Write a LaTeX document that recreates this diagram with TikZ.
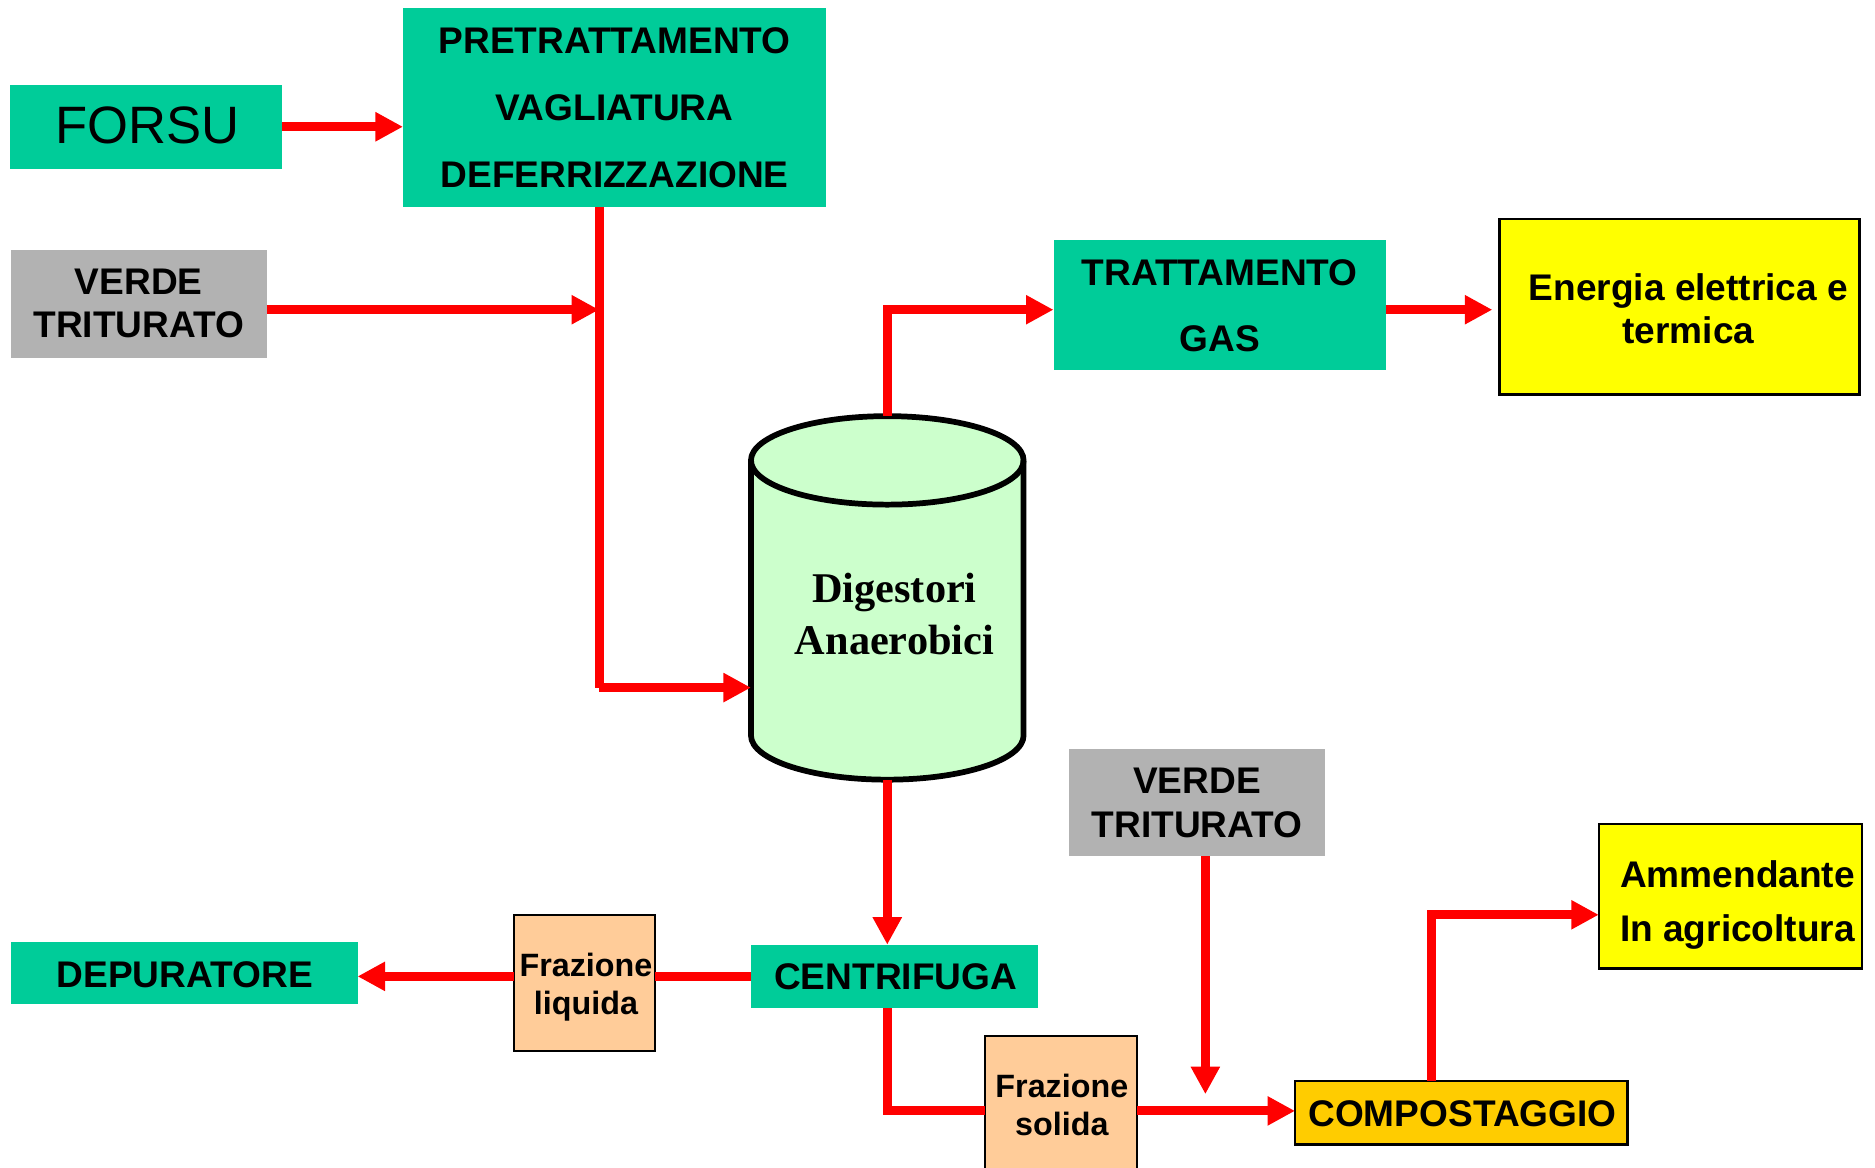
\documentclass[tikz,border=0pt]{standalone}
\usepackage{fontspec}
\setmainfont{Liberation Sans}
\newfontfamily\serifb{Liberation Serif}
\usetikzlibrary{arrows.meta,calc}
\definecolor{tealc}{HTML}{00CC99}
\definecolor{grayc}{HTML}{B2B2B2}
\definecolor{yellowc}{HTML}{FFFF00}
\definecolor{orangec}{HTML}{FFCC00}
\definecolor{peachc}{HTML}{FFCC99}
\definecolor{greenc}{HTML}{CCFFCC}
\definecolor{redc}{HTML}{FF0000}
\tikzset{
  boxn/.style={inner sep=0pt, outer sep=0pt},
  tealbox/.style={boxn, fill=tealc},
  graybox/.style={boxn, fill=grayc},
  framed/.style={boxn, draw=black, line width=1pt},
  lbl/.style={inner sep=0pt, align=center, font=\bfseries\fontsize{15.5}{18}\selectfont},
  ln/.style={draw=redc, line width=3.75pt},
  arr/.style={ln, -{Triangle[length=11.5pt,width=11.5pt]}},
}
\begin{document}
\begin{tikzpicture}[x=0.5pt,y=-0.5pt]
\useasboundingbox (0,0) rectangle (1568,976);
\fill[white] (0,0) rectangle (1568,976);

% boxes
\node[tealbox, minimum width=114pt, minimum height=35pt] (forsu) at (122,106) {};
\node[tealbox, minimum width=177pt, minimum height=83pt] (pre) at (514,90) {};
\node[graybox, minimum width=107pt, minimum height=45pt] (v1) at (116,254) {};
\node[tealbox, minimum width=139pt, minimum height=54pt] (tr) at (1020,255) {};
\node[framed, fill=yellowc, minimum width=150.5pt, minimum height=73.5pt] (en) at (1404.5,256.5) {};
\node[boxn, minimum width=114pt, minimum height=152pt] (dig) at (742,500) {};
\node[tealbox, minimum width=120pt, minimum height=26.5pt] (cen) at (748,816.5) {};
\node[framed, line width=0.8pt, fill=peachc, minimum width=59pt, minimum height=57pt] (fl) at (489,822) {};
\node[tealbox, minimum width=145pt, minimum height=26pt] (dep) at (154,814) {};
\node[framed, line width=0.8pt, fill=peachc, minimum width=63.5pt, minimum height=67pt] (fs) at (887.5,933) {};
\node[framed, fill=orangec, minimum width=139pt, minimum height=26.5pt] (comp) at (1222,930.5) {};
\node[graybox, minimum width=107pt, minimum height=45pt] (v2) at (1001,671) {};
\node[framed, fill=yellowc, minimum width=110pt, minimum height=60.5pt] (am) at (1447,749.5) {};

% cylinder
\filldraw[fill=greenc, draw=black, line width=2.4pt]
  (628,385) -- (628,615) arc[start angle=180, end angle=360, x radius=57pt, y radius=18.5pt]
  -- (856,385) arc[start angle=0, end angle=180, x radius=57pt, y radius=18.5pt] -- cycle;
\draw[black, line width=2.4pt] (628,385) arc[start angle=180, end angle=360, x radius=57pt, y radius=18.5pt];

% junction coordinates
\coordinate (j1) at (501,259);
\coordinate (b1) at (501,575);
\coordinate (b2) at (742,259);
\coordinate (b3) at (742,929);
\coordinate (tipv) at (1008,915);
\coordinate (b4) at (1197,765);

% connectors
\draw[arr] (forsu.east) -- (pre.west |- forsu.east);
\draw[ln] (pre.south -| b1) -- (b1);
\draw[arr] (b1) -- (dig.west |- b1);
\draw[arr] (v1.east |- j1) -- (j1);
\draw[arr] (dig.north) -- (b2) -- (tr.west |- b2);
\draw[arr, shorten >=3pt] (tr.east |- b2) -- (en.west |- b2);
\draw[arr] (dig.south) -- (dig.south |- cen.north);
\draw[ln] (cen.west) -- (fl.east |- cen.west);
\draw[arr] (fl.west |- cen.west) -- (dep.east |- cen.west);
\draw[ln] (b3 |- cen.south) -- (b3) -- (fs.west |- b3);
\draw[arr] (fs.east |- b3) -- (comp.west |- b3);
\draw[arr] (v2.south -| tipv) -- (tipv);
\draw[arr] (comp.north -| b4) -- (b4) -- (am.west |- b4);

% labels
\node[inner sep=0pt, font=\fontsize{22}{26}\selectfont] (forsuT) at (123,105) {FORSU};
\node[lbl, font=\bfseries\fontsize{15.5}{28}\selectfont] (preT) at (514,90) {PRETRATTAMENTO\\VAGLIATURA\\DEFERRIZZAZIONE};
\node[lbl] (v1T) at (116,254) {VERDE\\TRITURATO};
\node[lbl, font=\bfseries\fontsize{15.5}{27.5}\selectfont] (trT) at (1020,255.5) {TRATTAMENTO\\GAS};
\node[lbl] (enT) at (1412,258) {Energia elettrica e\\termica};
\node[lbl, font=\serifb\bfseries\fontsize{17.7}{21.5}\selectfont] (digT) at (748,513.5) {Digestori\\Anaerobici};
\node[lbl] (depT) at (154.5,815) {DEPURATORE};
\node[lbl, font=\bfseries\fontsize{13.5}{16}\selectfont] (flT) at (490,825.5) {Frazione\\liquida};
\node[lbl] (cenT) at (749,817) {CENTRIFUGA};
\node[lbl, font=\bfseries\fontsize{15.5}{18.5}\selectfont] (v2T) at (1001,671.5) {VERDE\\TRITURATO};
\node[lbl, font=\bfseries\fontsize{13.5}{16}\selectfont] (fsT) at (888,924) {Frazione\\solida};
\node[lbl] (compT) at (1223,931) {COMPOSTAGGIO};
\node[lbl, font=\bfseries\fontsize{15.5}{22.5}\selectfont] (amT) at (1453,757) {Ammendante\\In agricoltura};
\end{tikzpicture}
\end{document}
